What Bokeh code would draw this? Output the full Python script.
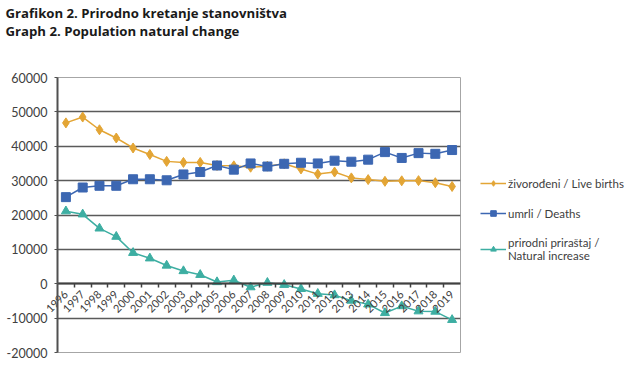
from bokeh.plotting import figure
from bokeh.models import (Range1d, LinearAxis, FixedTicker, Legend, LegendItem, Title,
                          NumeralTickFormatter)
from bokeh.embed import file_html
from bokeh.resources import INLINE
import math

years = [str(y) for y in range(1996, 2020)]
live_births = [46800, 48500, 44800, 42400, 39500, 37600, 35600, 35300, 35300, 34400, 34300, 33900,
               34200, 34900, 33400, 31900, 32500, 30800, 30300, 29800, 29950, 30000, 29400, 28300]
deaths = [25200, 28000, 28500, 28500, 30400, 30400, 30100, 31800, 32500, 34400, 33200, 35000,
          34100, 34900, 35200, 35000, 35800, 35500, 36100, 38300, 36600, 38000, 37800, 38900]
natural_increase = [21100, 20200, 16100, 13700, 9000, 7400, 5300, 3700, 2600, 500, 1000, -1000,
                    300, -300, -1500, -2900, -3300, -4900, -6000, -8500, -6500, -8000, -8100, -10500]
y_ticks = [-20000, -10000, 0, 10000, 20000, 30000, 40000, 50000, 60000]

title_text = "Grafikon 2. Prirodno kretanje stanovništva\nGraph 2. Population natural change"
label_births = "živorođeni / Live births"
label_deaths = "umrli / Deaths"
label_nat = "prirodni priraštaj /\nNatural increase"

TFONT = "Open Sans"
FONT = "Lato"
C_BIRTH = "#E3A535"
C_DEATH = "#3C67B2"
C_NAT = "#3DAEA2"
TXT = "#404040"

n = len(years)
xpos = [i + 0.5 for i in range(n)]  # category centres on a 0..n band scale

p = figure(frame_width=403, frame_height=275, x_range=Range1d(0, n),
           y_range=Range1d(-20000, 60000), output_backend="svg", toolbar_location=None,
           x_axis_location=None, y_axis_location=None, title=None,
           min_border_left=57, min_border_right=172, min_border_bottom=7, min_border_top=77)

# spacer between the title block and the plot area (added first: nearest the frame)
p.add_layout(Title(text=" ", text_font_size="1px", text_color="white", standoff=30), "above")
p.add_layout(Title(text=title_text, text_font=TFONT, text_font_size="13.2px", text_font_style="bold",
                   text_color="#1a1a1a", text_line_height=1.0, offset=-52, standoff=6,
                   vertical_align="top"), "above")

p.outline_line_color = "#a6a6a6"
p.outline_line_width = 1
p.background_fill_color = "white"
p.border_fill_color = "white"

# y axis
yax = LinearAxis(ticker=FixedTicker(ticks=y_ticks))
yax.formatter = NumeralTickFormatter(format="0")
yax.major_label_text_font = FONT
yax.major_label_text_font_size = "12.5px"
yax.major_label_text_color = TXT
yax.axis_line_color = "#505050"
yax.axis_line_width = 2
yax.major_tick_line_color = "#505050"
yax.major_tick_in = 0
yax.major_tick_out = 3
yax.minor_tick_line_color = None
yax.major_label_standoff = 7
p.add_layout(yax, "left")

p.ygrid.ticker = FixedTicker(ticks=y_ticks[:-1])
p.ygrid.grid_line_color = "#5a5a5a"
p.ygrid.grid_line_width = 1.6
p.xgrid.grid_line_color = None

# year labels: a normal bottom axis whose labels are pulled up under the zero line
xax = LinearAxis(ticker=FixedTicker(ticks=xpos))
xax.major_label_overrides = {x: y for x, y in zip(xpos, years)}
xax.major_label_orientation = math.pi / 4
xax.major_label_text_font = FONT
xax.major_label_text_font_size = "11px"
xax.major_label_text_color = TXT
xax.major_tick_line_color = None
xax.minor_tick_line_color = None
xax.major_tick_in = 0
xax.major_tick_out = 0
xax.axis_line_color = None
xax.major_label_standoff = -60
p.add_layout(xax, "below")

# zero line with tick marks between categories
tax = LinearAxis(ticker=FixedTicker(ticks=list(range(1, n))))
tax.fixed_location = 0
tax.major_label_text_font_size = "0px"
tax.major_label_text_color = None
tax.major_tick_line_color = "#404040"
tax.major_tick_line_width = 1.5
tax.major_tick_in = 0
tax.major_tick_out = 4
tax.minor_tick_line_color = None
tax.axis_line_color = "#404040"
tax.axis_line_width = 2
p.add_layout(tax, "below")

r1l = p.line(xpos, live_births, line_color=C_BIRTH, line_width=1.5)
r1m = p.scatter(xpos, live_births, marker="diamond", size=10, fill_color=C_BIRTH, line_color=C_BIRTH)
r2l = p.line(xpos, deaths, line_color=C_DEATH, line_width=1.5)
r2m = p.scatter(xpos, deaths, marker="square", size=9, fill_color=C_DEATH, line_color=C_DEATH)
r3l = p.line(xpos, natural_increase, line_color=C_NAT, line_width=1.5)
r3m = p.scatter(xpos, natural_increase, marker="triangle", size=9, fill_color=C_NAT, line_color=C_NAT)

legend = Legend(items=[
    LegendItem(label=label_births, renderers=[r1l, r1m]),
    LegendItem(label=label_deaths, renderers=[r2l, r2m]),
    LegendItem(label=label_nat, renderers=[r3l, r3m]),
], location=(20, 90))
legend.label_text_font = FONT
legend.label_text_font_size = "11.5px"
legend.label_text_color = TXT
legend.border_line_color = None
legend.background_fill_alpha = 0
legend.glyph_width = 26
legend.glyph_height = 14
legend.label_standoff = 2
legend.spacing = 16
legend.padding = 0
legend.margin = 0
p.add_layout(legend, "right")

open("out.html", "w").write(file_html(p, INLINE))
